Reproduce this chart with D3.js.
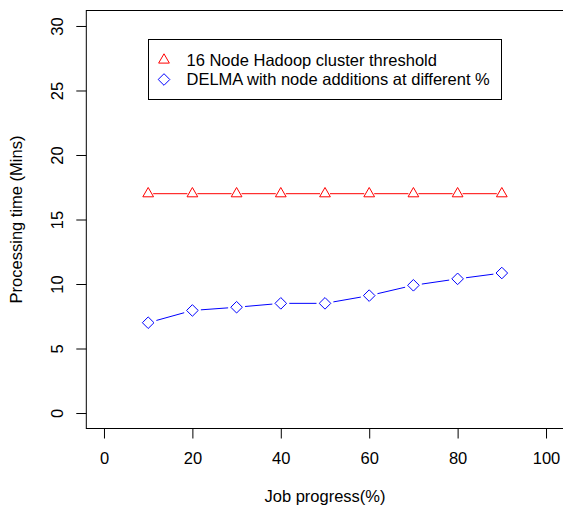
<!DOCTYPE html>
<html>
<head>
<meta charset="utf-8">
<script src="https://cdn.jsdelivr.net/npm/d3@7"></script>
<style>
  body { margin: 0; background: #fff; }
  svg text { font-family: "Liberation Sans", Arial, Helvetica, sans-serif; font-size: 16.5px; fill: #000; }
</style>
</head>
<body>
<svg id="chart" width="563" height="508"></svg>
<script>
// Job progress (%) at which the measurements were taken
const progress = [10, 20, 30, 40, 50, 60, 70, 80, 90];
// 16 node Hadoop cluster threshold (Mins)
const hadoopThreshold = [17, 17, 17, 17, 17, 17, 17, 17, 17];
// DELMA with node additions (Mins)
const delmaTimes = [7.0, 7.95, 8.2, 8.5, 8.5, 9.1, 9.9, 10.4, 10.85];

const xTicks = [0, 20, 40, 60, 80, 100];
const yTicks = [0, 5, 10, 15, 20, 25, 30];

const legendLabels = [
    '16 Node Hadoop cluster threshold',
    'DELMA with node additions at different %'
];

const svg = d3.select('#chart');

// R style 4% padding on both axes
const x = d3.scaleLinear().domain([-4, 104]).range([86.3, 563.7]);
const y = d3.scaleLinear().domain([-1.2, 31.2]).range([428.5, 10.5]);

const box = { left: 86.3, right: 563.7, top: 10.5, bottom: 428.5 };

// Plot box
svg.append('rect')
    .attr('x', box.left).attr('y', box.top)
    .attr('width', box.right - box.left)
    .attr('height', box.bottom - box.top)
    .attr('fill', 'none').attr('stroke', '#000').attr('stroke-width', 1);

// X axis
const xAxis = svg.append('g').attr('transform', `translate(0,${box.bottom})`)
    .call(d3.axisBottom(x).tickValues(xTicks).tickSize(10).tickPadding(14).tickSizeOuter(0));
xAxis.select('.domain').remove();
xAxis.selectAll('.tick line').attr('stroke', '#000');
xAxis.selectAll('.tick text').attr('font-size', null).attr('font-family', null);

// Y axis, labels rotated like R's las = 0
const yAxis = svg.append('g').attr('transform', `translate(${box.left},0)`)
    .call(d3.axisLeft(y).tickValues(yTicks).tickSize(10).tickSizeOuter(0));
yAxis.select('.domain').remove();
yAxis.selectAll('.tick line').attr('stroke', '#000');
yAxis.selectAll('.tick text')
    .attr('font-size', null).attr('font-family', null)
    .attr('x', null)
    .attr('text-anchor', 'middle')
    .attr('transform', 'translate(-23,0) rotate(-90)')
    .attr('dy', '0.0em');

// Axis titles
svg.append('text')
    .attr('x', x(50)).attr('y', 502)
    .attr('text-anchor', 'middle')
    .text('Job progress(%)');

svg.append('text')
    .attr('transform', `translate(22,${y(15)}) rotate(-90)`)
    .attr('text-anchor', 'middle')
    .text('Processing time (Mins)');

// type = "b": line segments stop short of the points
function gappedSegments(xs, ys, gap) {
    const segs = [];
    for (let i = 0; i < xs.length - 1; i++) {
        const x0 = x(xs[i]), y0 = y(ys[i]), x1 = x(xs[i + 1]), y1 = y(ys[i + 1]);
        const dx = x1 - x0, dy = y1 - y0, len = Math.hypot(dx, dy);
        if (len <= 2 * gap) continue;
        const ux = dx / len, uy = dy / len;
        segs.push([x0 + ux * gap, y0 + uy * gap, x1 - ux * gap, y1 - uy * gap]);
    }
    return segs;
}

function drawSeries(values, color, symbol, gap) {
    const g = svg.append('g');
    g.selectAll('line')
        .data(gappedSegments(progress, values, gap))
        .join('line')
        .attr('x1', d => d[0]).attr('y1', d => d[1])
        .attr('x2', d => d[2]).attr('y2', d => d[3])
        .attr('stroke', color).attr('stroke-width', 1);
    g.selectAll('path')
        .data(values)
        .join('path')
        .attr('d', symbol)
        .attr('transform', (d, i) => `translate(${x(progress[i])},${y(d)})`)
        .attr('fill', 'none').attr('stroke', color).attr('stroke-width', 1);
}

// pch 2 (triangle) and pch 5 (diamond)
const r = 6.2;
const trianglePath = `M0,${-r}L${r * 0.866},${r / 2}L${-r * 0.866},${r / 2}Z`;
const d5 = 5.8;
const diamondPath = `M0,${-d5}L${d5},0L0,${d5}L${-d5},0Z`;

drawSeries(hadoopThreshold, '#ff0000', trianglePath, 5);
drawSeries(delmaTimes, '#0000ff', diamondPath, 8.5);

// Legend
const legend = svg.append('g');
legend.append('rect')
    .attr('x', 148.5).attr('y', 39.5)
    .attr('width', 353).attr('height', 60)
    .attr('fill', '#fff').attr('stroke', '#000').attr('stroke-width', 1);

const legendColors = ['#ff0000', '#0000ff'];
const legendSymbols = [trianglePath, diamondPath];
legendLabels.forEach((label, i) => {
    const cy = 60 + i * 19.5;
    legend.append('path')
        .attr('d', legendSymbols[i])
        .attr('transform', `translate(164,${cy})`)
        .attr('fill', 'none').attr('stroke', legendColors[i]).attr('stroke-width', 1);
    legend.append('text')
        .attr('x', 186.5).attr('y', cy)
        .attr('dy', '0.36em')
        .text(label);
});
</script>
</body>
</html>
